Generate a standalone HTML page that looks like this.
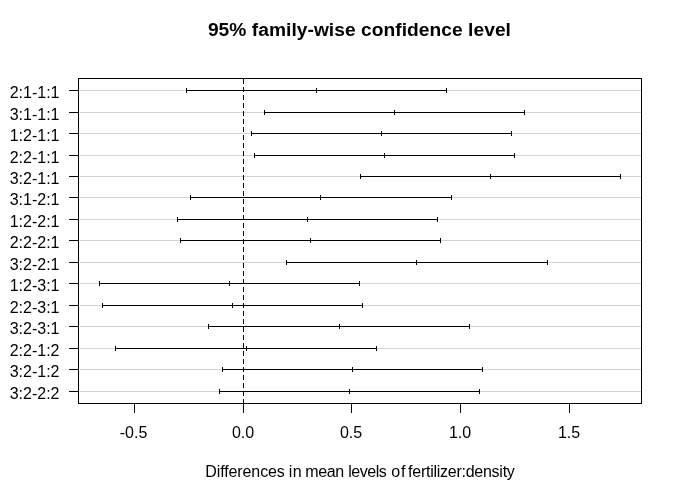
<!DOCTYPE html><html><head><meta charset="utf-8"><title>Tukey HSD</title><style>
html,body{margin:0;padding:0;background:#fff}body{width:682px;height:501px;overflow:hidden;position:relative;font-family:"Liberation Sans",sans-serif;color:#000}
.k{position:absolute;background:#000}.g{position:absolute;background:#d3d3d3;height:1px}
.t{position:absolute;white-space:nowrap;line-height:1}
</style></head><body>
<div class="g" style="left:78px;top:90px;width:563px"></div>
<div class="g" style="left:78px;top:112px;width:563px"></div>
<div class="g" style="left:78px;top:133px;width:563px"></div>
<div class="g" style="left:78px;top:155px;width:563px"></div>
<div class="g" style="left:78px;top:176px;width:563px"></div>
<div class="g" style="left:78px;top:197px;width:563px"></div>
<div class="g" style="left:78px;top:219px;width:563px"></div>
<div class="g" style="left:78px;top:240px;width:563px"></div>
<div class="g" style="left:78px;top:262px;width:563px"></div>
<div class="g" style="left:78px;top:283px;width:563px"></div>
<div class="g" style="left:78px;top:305px;width:563px"></div>
<div class="g" style="left:78px;top:326px;width:563px"></div>
<div class="g" style="left:78px;top:348px;width:563px"></div>
<div class="g" style="left:78px;top:369px;width:563px"></div>
<div class="g" style="left:78px;top:391px;width:563px"></div>
<div style="position:absolute;left:243px;top:79px;width:1px;height:325px;background:repeating-linear-gradient(to bottom,#000 0,#000 5px,transparent 5px,transparent 8px)"></div>
<div class="k" style="left:186px;top:90px;width:261px;height:1px"></div>
<div class="k" style="left:186px;top:88px;width:1px;height:5px"></div>
<div class="k" style="left:316px;top:88px;width:1px;height:5px"></div>
<div class="k" style="left:446px;top:88px;width:1px;height:5px"></div>
<div class="k" style="left:264px;top:112px;width:261px;height:1px"></div>
<div class="k" style="left:264px;top:110px;width:1px;height:5px"></div>
<div class="k" style="left:394px;top:110px;width:1px;height:5px"></div>
<div class="k" style="left:524px;top:110px;width:1px;height:5px"></div>
<div class="k" style="left:251px;top:133px;width:261px;height:1px"></div>
<div class="k" style="left:251px;top:131px;width:1px;height:5px"></div>
<div class="k" style="left:381px;top:131px;width:1px;height:5px"></div>
<div class="k" style="left:511px;top:131px;width:1px;height:5px"></div>
<div class="k" style="left:254px;top:155px;width:261px;height:1px"></div>
<div class="k" style="left:254px;top:153px;width:1px;height:5px"></div>
<div class="k" style="left:384px;top:153px;width:1px;height:5px"></div>
<div class="k" style="left:514px;top:153px;width:1px;height:5px"></div>
<div class="k" style="left:360px;top:176px;width:261px;height:1px"></div>
<div class="k" style="left:360px;top:174px;width:1px;height:5px"></div>
<div class="k" style="left:490px;top:174px;width:1px;height:5px"></div>
<div class="k" style="left:620px;top:174px;width:1px;height:5px"></div>
<div class="k" style="left:190px;top:197px;width:262px;height:1px"></div>
<div class="k" style="left:190px;top:195px;width:1px;height:5px"></div>
<div class="k" style="left:320px;top:195px;width:1px;height:5px"></div>
<div class="k" style="left:451px;top:195px;width:1px;height:5px"></div>
<div class="k" style="left:177px;top:219px;width:261px;height:1px"></div>
<div class="k" style="left:177px;top:217px;width:1px;height:5px"></div>
<div class="k" style="left:307px;top:217px;width:1px;height:5px"></div>
<div class="k" style="left:437px;top:217px;width:1px;height:5px"></div>
<div class="k" style="left:180px;top:240px;width:261px;height:1px"></div>
<div class="k" style="left:180px;top:238px;width:1px;height:5px"></div>
<div class="k" style="left:310px;top:238px;width:1px;height:5px"></div>
<div class="k" style="left:440px;top:238px;width:1px;height:5px"></div>
<div class="k" style="left:286px;top:262px;width:262px;height:1px"></div>
<div class="k" style="left:286px;top:260px;width:1px;height:5px"></div>
<div class="k" style="left:416px;top:260px;width:1px;height:5px"></div>
<div class="k" style="left:547px;top:260px;width:1px;height:5px"></div>
<div class="k" style="left:99px;top:283px;width:261px;height:1px"></div>
<div class="k" style="left:99px;top:281px;width:1px;height:5px"></div>
<div class="k" style="left:229px;top:281px;width:1px;height:5px"></div>
<div class="k" style="left:359px;top:281px;width:1px;height:5px"></div>
<div class="k" style="left:102px;top:305px;width:261px;height:1px"></div>
<div class="k" style="left:102px;top:303px;width:1px;height:5px"></div>
<div class="k" style="left:232px;top:303px;width:1px;height:5px"></div>
<div class="k" style="left:362px;top:303px;width:1px;height:5px"></div>
<div class="k" style="left:208px;top:326px;width:262px;height:1px"></div>
<div class="k" style="left:208px;top:324px;width:1px;height:5px"></div>
<div class="k" style="left:339px;top:324px;width:1px;height:5px"></div>
<div class="k" style="left:469px;top:324px;width:1px;height:5px"></div>
<div class="k" style="left:115px;top:348px;width:262px;height:1px"></div>
<div class="k" style="left:115px;top:346px;width:1px;height:5px"></div>
<div class="k" style="left:246px;top:346px;width:1px;height:5px"></div>
<div class="k" style="left:376px;top:346px;width:1px;height:5px"></div>
<div class="k" style="left:222px;top:369px;width:261px;height:1px"></div>
<div class="k" style="left:222px;top:367px;width:1px;height:5px"></div>
<div class="k" style="left:352px;top:367px;width:1px;height:5px"></div>
<div class="k" style="left:482px;top:367px;width:1px;height:5px"></div>
<div class="k" style="left:219px;top:391px;width:261px;height:1px"></div>
<div class="k" style="left:219px;top:389px;width:1px;height:5px"></div>
<div class="k" style="left:349px;top:389px;width:1px;height:5px"></div>
<div class="k" style="left:479px;top:389px;width:1px;height:5px"></div>
<div style="position:absolute;left:78px;top:78px;width:564px;height:326px;border:1px solid #000;box-sizing:border-box"></div>
<div class="k" style="left:69px;top:90px;width:9px;height:1px"></div>
<div class="t" style="right:622.5px;top:85px;font-size:16px">2:1-1:1</div>
<div class="k" style="left:69px;top:112px;width:9px;height:1px"></div>
<div class="t" style="right:622.5px;top:107px;font-size:16px">3:1-1:1</div>
<div class="k" style="left:69px;top:133px;width:9px;height:1px"></div>
<div class="t" style="right:622.5px;top:128px;font-size:16px">1:2-1:1</div>
<div class="k" style="left:69px;top:155px;width:9px;height:1px"></div>
<div class="t" style="right:622.5px;top:150px;font-size:16px">2:2-1:1</div>
<div class="k" style="left:69px;top:176px;width:9px;height:1px"></div>
<div class="t" style="right:622.5px;top:171px;font-size:16px">3:2-1:1</div>
<div class="k" style="left:69px;top:197px;width:9px;height:1px"></div>
<div class="t" style="right:622.5px;top:192px;font-size:16px">3:1-2:1</div>
<div class="k" style="left:69px;top:219px;width:9px;height:1px"></div>
<div class="t" style="right:622.5px;top:214px;font-size:16px">1:2-2:1</div>
<div class="k" style="left:69px;top:240px;width:9px;height:1px"></div>
<div class="t" style="right:622.5px;top:235px;font-size:16px">2:2-2:1</div>
<div class="k" style="left:69px;top:262px;width:9px;height:1px"></div>
<div class="t" style="right:622.5px;top:257px;font-size:16px">3:2-2:1</div>
<div class="k" style="left:69px;top:283px;width:9px;height:1px"></div>
<div class="t" style="right:622.5px;top:278px;font-size:16px">1:2-3:1</div>
<div class="k" style="left:69px;top:305px;width:9px;height:1px"></div>
<div class="t" style="right:622.5px;top:300px;font-size:16px">2:2-3:1</div>
<div class="k" style="left:69px;top:326px;width:9px;height:1px"></div>
<div class="t" style="right:622.5px;top:321px;font-size:16px">3:2-3:1</div>
<div class="k" style="left:69px;top:348px;width:9px;height:1px"></div>
<div class="t" style="right:622.5px;top:343px;font-size:16px">2:2-1:2</div>
<div class="k" style="left:69px;top:369px;width:9px;height:1px"></div>
<div class="t" style="right:622.5px;top:364px;font-size:16px">3:2-1:2</div>
<div class="k" style="left:69px;top:391px;width:9px;height:1px"></div>
<div class="t" style="right:622.5px;top:386px;font-size:16px">3:2-2:2</div>
<div class="k" style="left:134px;top:403px;width:1px;height:10px"></div>
<div class="t" style="left:103.5px;top:425px;width:60px;text-align:center;font-size:16px">-0.5</div>
<div class="k" style="left:243px;top:403px;width:1px;height:10px"></div>
<div class="t" style="left:213px;top:425px;width:60px;text-align:center;font-size:16px">0.0</div>
<div class="k" style="left:351px;top:403px;width:1px;height:10px"></div>
<div class="t" style="left:321px;top:425px;width:60px;text-align:center;font-size:16px">0.5</div>
<div class="k" style="left:460px;top:403px;width:1px;height:10px"></div>
<div class="t" style="left:430px;top:425px;width:60px;text-align:center;font-size:16px">1.0</div>
<div class="k" style="left:569px;top:403px;width:1px;height:10px"></div>
<div class="t" style="left:539px;top:425px;width:60px;text-align:center;font-size:16px">1.5</div>
<div class="t" id="ttl" style="left:207.9px;top:20px;font-size:19.2px;font-weight:bold;letter-spacing:0.04px">95% family-wise confidence level</div>
<div class="t" style="left:0;top:464px;width:682px;height:16px;font-size:16px"><span style="position:absolute;left:205.3px;top:0;letter-spacing:-0.11px">Differences</span> <span style="position:absolute;left:288.8px;top:0;letter-spacing:0.3px">in</span> <span style="position:absolute;left:305.3px;top:0;letter-spacing:-0.4px">mean</span> <span style="position:absolute;left:348.2px;top:0;letter-spacing:-0.46px">levels</span> <span style="position:absolute;left:391.2px;top:0;letter-spacing:0.9px">of</span> <span style="position:absolute;left:408.1px;top:0;letter-spacing:-0.259px">fertilizer:density</span> </div>
</body></html>
